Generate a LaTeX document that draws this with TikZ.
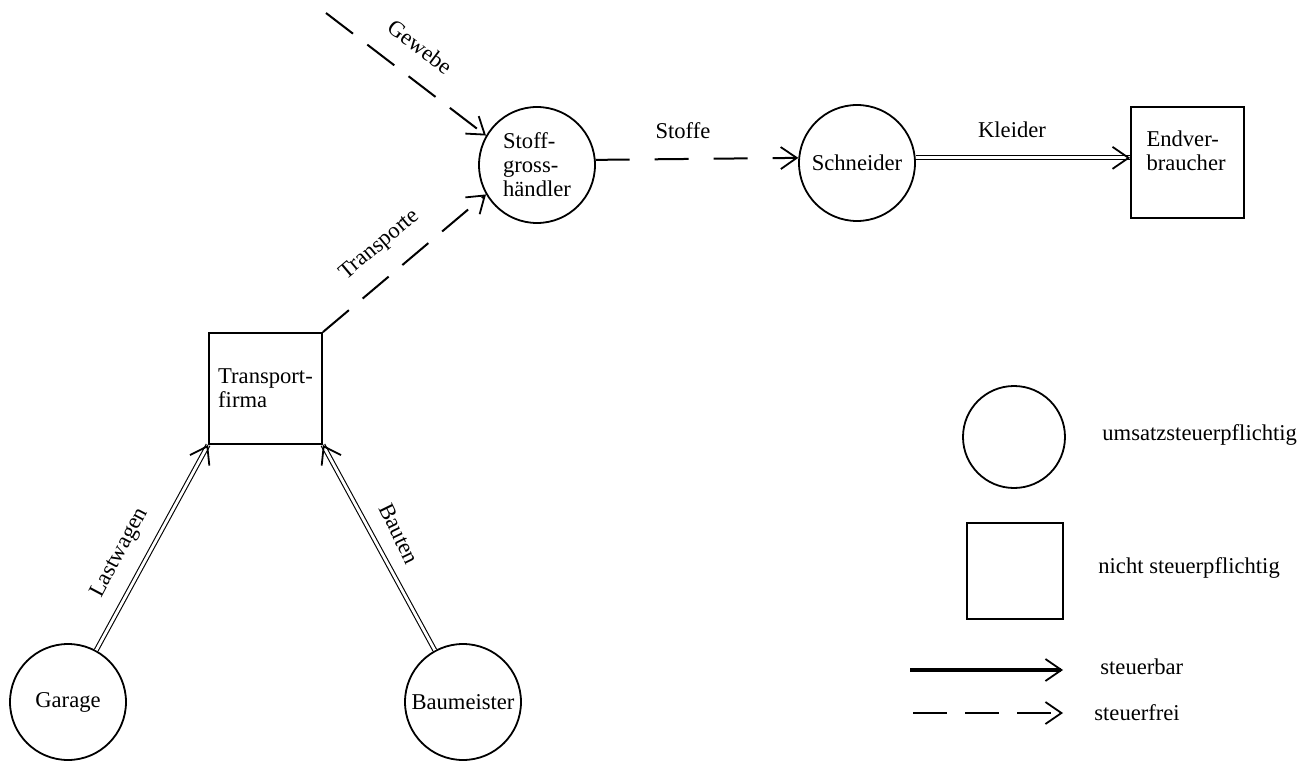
\documentclass[tikz,border=0pt]{standalone}
\usepackage{fontspec}
\setmainfont{Liberation Serif}
\usetikzlibrary{arrows.meta,decorations.markings}

\begin{document}
\begin{tikzpicture}[x=0.5pt,y=-0.5pt,
  every node/.style={font=\fontsize{11.3}{12}\selectfont},
  taxed/.style={circle,draw,line width=0.9pt,minimum size=58pt,inner sep=0pt,align=left},
  untaxed/.style={rectangle,draw,line width=0.9pt,inner sep=0pt,align=left},
  barb/.style={-{Straight Barb[length=8pt,width=11pt,line width=0.9pt]}},
  exempt/.style={line width=1pt,dash pattern=on 17pt off 9pt,barb},
  taxable/.style={double,double distance=1.4pt,line width=0.55pt},
  taxtip/.style={postaction={decorate},decoration={markings,
      mark=at position 1 with {\arrow{Straight Barb[length=8pt,width=11pt,line width=0.9pt]}}}},
  lbl/.style={inner sep=0pt}
]
\useasboundingbox (0,0) rectangle (1307,765);

% firms
\node[taxed] (stoff) at (537,165) {Stoff-\\gross-\\händler};
\node[taxed] (sch) at (857,163) {Schneider};
\node[untaxed,minimum width=56.5pt,minimum height=55.5pt,
  label={[anchor=north west,align=left,inner sep=0pt,xshift=8pt,yshift=-12pt]north west:Endver-\\braucher}]
  (end) at (1187.5,162.5) {};
\node[untaxed,minimum width=56.5pt,minimum height=55.5pt] (tf) at (265.5,388.5) {Transport-\\firma};
\node[taxed] (gar) at (68,702) {Garage};
\node[taxed] (bau) at (463,702) {Baumeister};

% tax-exempt supplies
\coordinate (gw) at (326,13);
\draw[exempt] (gw) -- (stoff.150);
\node[lbl,rotate=-37] (gwl) at (420,47) {Gewebe};
\draw[exempt] (tf.north east) -- (stoff.210);
\node[lbl,rotate=40] (trl) at (380,245) {Transporte};
\draw[exempt,dash pattern=on 17pt off 12.5pt] (stoff.5) -- (sch.175);
\node[lbl] (stl) at (683,131) {Stoffe};

% taxable supplies
\draw[taxable] (sch.5) -- (sch.5 -| end.west);
\path[taxtip] (sch.5) -- (sch.5 -| end.west);
\node[lbl] (kl) at (1012,130) {Kleider};
\draw[taxable] (gar) -- (tf.south west);
\path[taxtip] (gar) -- (tf.south west);
\node[lbl,rotate=62] (lwl) at (120,553) {Lastwagen};
\draw[taxable] (bau) -- (tf.south east);
\path[taxtip] (bau) -- (tf.south east);
\node[lbl,rotate=-64] (btl) at (399,534) {Bauten};

% legend
\node[taxed,minimum size=51pt] (lcirc) at (1014,437) {};
\node[lbl,anchor=west] (lcircl) at (1102,435) {umsatzsteuerpflichtig};
\node[untaxed,minimum size=48pt] (lsq) at (1015,571) {};
\node[lbl,anchor=west] (lsql) at (1098,568) {nicht steuerpflichtig};
\coordinate (sba) at (910,670);
\coordinate (sbb) at (1063,670);
\draw[line width=1.7pt,barb] (sba) -- (sbb);
\node[lbl,anchor=west] (sbl) at (1100,667) {steuerbar};
\coordinate (sfa) at (913,713);
\coordinate (sfb) at (1063,713);
\draw[exempt] (sfa) -- (sfb);
\node[lbl,anchor=west] (sfl) at (1094,713) {steuerfrei};
\end{tikzpicture}
\end{document}
